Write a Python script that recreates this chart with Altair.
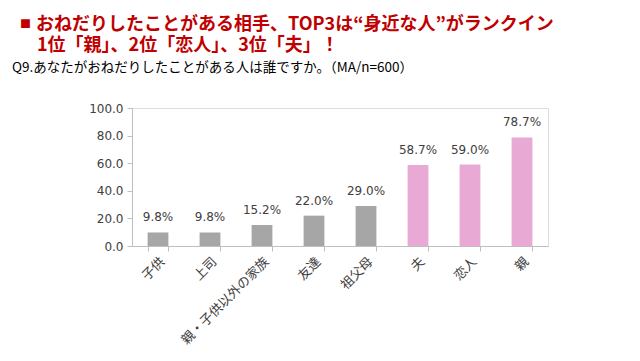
import altair as alt
import pandas as pd

categories = ["子供", "上司", "親・子供以外の家族", "友達", "祖父母", "夫", "恋人", "親"]
values = [9.8, 9.8, 15.2, 22.0, 29.0, 58.7, 59.0, 78.7]
groups = ["other", "other", "other", "other", "other", "top3", "top3", "top3"]
y_ticks = [0, 20, 40, 60, 80, 100]
title_line1 = "おねだりしたことがある相手、TOP3は“身近な人”がランクイン"
title_line2 = "1位「親」、2位「恋人」、3位「夫」！"
subtitle = "Q9.あなたがおねだりしたことがある人は誰ですか。（MA/n=600）"

df = pd.DataFrame({"cat": categories, "value": values, "group": groups})

x = alt.X("cat:N", sort=categories, title=None,
          scale=alt.Scale(paddingInner=0.6, paddingOuter=0.3),
          axis=alt.Axis(labelAngle=-45, labelFont="Noto Sans CJK JP", labelFontSize=13,
                        labelColor="#404040", tickBand="extent", domainColor="#bfbfbf",
                        tickColor="#bfbfbf", tickSize=5, labelPadding=4))
y = alt.Y("value:Q", title=None, scale=alt.Scale(domain=[0, 100]),
          axis=alt.Axis(values=y_ticks, format=".1f", grid=False, labelFont="DejaVu Sans",
                        labelFontSize=12, labelColor="#404040", domainColor="#bfbfbf",
                        tickColor="#bfbfbf", tickSize=5, minExtent=115, labelPadding=4,
                        labelOverlap=False))

base = alt.Chart(df).encode(x=x, y=y)

bars = base.mark_bar().encode(
    color=alt.Color("group:N", legend=None,
                    scale=alt.Scale(domain=["other", "top3"], range=["#a6a6a6", "#e8aad4"])),
)

labels = base.mark_text(baseline="bottom", dy=-8, font="DejaVu Sans", fontSize=12,
                        color="#404040").transform_calculate(
    label="format(datum.value, '.1f') + '%'"
).encode(text="label:N")

def header(text, xpos, ypos, size, color, weight="normal"):
    return alt.Chart(df).mark_text(
        align="left", baseline="middle", font="Noto Sans CJK JP", fontSize=size,
        fontWeight=weight, color=color,
    ).encode(x=alt.value(xpos), y=alt.value(ypos), text=alt.value(text)).transform_filter(
        alt.datum.cat == categories[0])

square = header("■", -112, -83, 11, "#c00000", "bold")
line1 = header(title_line1, -96, -83, 18, "#c00000", "bold")
line2 = header(title_line2, -95, -62, 18, "#c00000", "bold")
sub = header(subtitle, -120, -40, 13.5, "#000000")

chart = (bars + labels + square + line1 + line2 + sub).properties(
    width=416, height=138,
    padding={"left": 4, "top": 8, "right": 5, "bottom": 5},
).configure_view(stroke=None).configure(background="white")

chart.save("out.html", embed_options={"renderer": "svg", "actions": False})
